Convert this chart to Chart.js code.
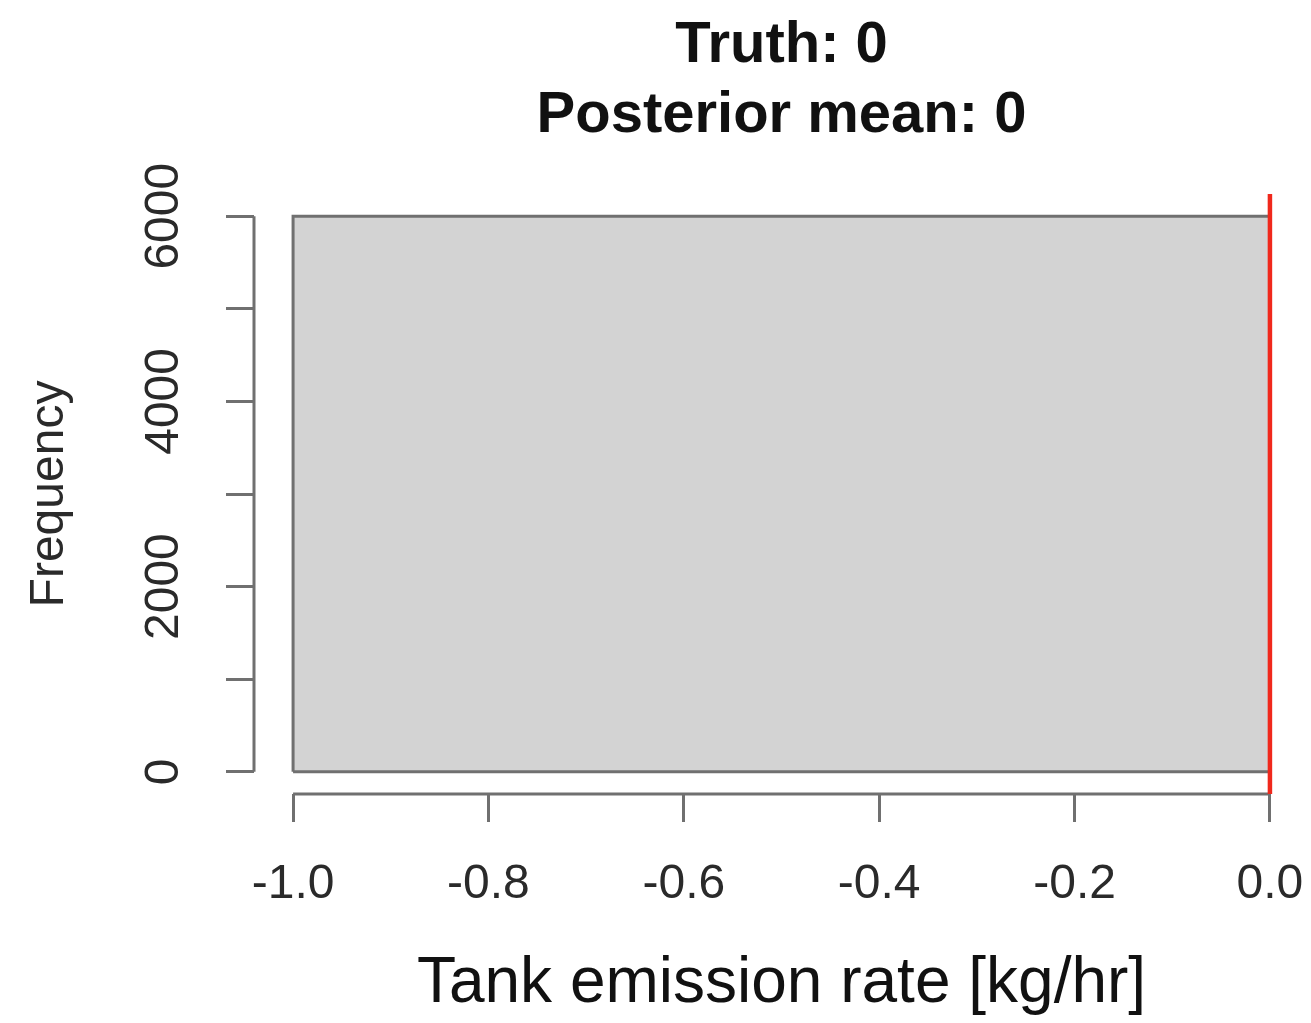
<!DOCTYPE html>
<html>
<head>
<meta charset="utf-8">
<script src="https://cdn.jsdelivr.net/npm/chart.js@4.4.1/dist/chart.umd.min.js"></script>
<style>
  html, body { margin: 0; padding: 0; background: #ffffff; }
  #wrap { width: 1311px; height: 1023px; }
  canvas { display: block; }
</style>
</head>
<body>
<div id="wrap"><canvas id="c" width="1311" height="1023"></canvas></div>
<script>
// ---- data ----
const binEdges = [-1.0, 0.0];          // histogram break points
const binCounts = [6000];              // frequency of each bin
const xTickValues = [-1.0, -0.8, -0.6, -0.4, -0.2, 0.0];
const yTickValues = [0, 1000, 2000, 3000, 4000, 5000, 6000];
const yLabelValues = [0, 2000, 4000, 6000];
const truthValue = 0;
const posteriorMean = 0;
const titleLines = ['Truth: ' + truthValue, 'Posterior mean: ' + posteriorMean];
const xAxisTitle = 'Tank emission rate [kg/hr]';
const yAxisTitle = 'Frequency';

// R-style axis limits (4% extension of data range)
const xData = [Math.min(...binEdges), Math.max(...binEdges)];
const yData = [0, Math.max(...binCounts)];
const xPad = (xData[1] - xData[0]) * 0.04;
const yPad = (yData[1] - yData[0]) * 0.04;
const xLim = [xData[0] - xPad, xData[1] + xPad];
const yLim = [yData[0] - yPad, yData[1] + yPad];

// histogram fill and outline built from the bins
const histFill = [];
const histOutline = [];
for (let i = 0; i < binCounts.length; i++) {
  histFill.push({x: binEdges[i], y: 0});
  histFill.push({x: binEdges[i], y: binCounts[i]});
  histFill.push({x: binEdges[i + 1], y: binCounts[i]});
  histFill.push({x: binEdges[i + 1], y: 0});
  histOutline.push({x: binEdges[i], y: 0});
  histOutline.push({x: binEdges[i], y: binCounts[i]});
  histOutline.push({x: binEdges[i + 1], y: binCounts[i]});
  histOutline.push({x: binEdges[i + 1], y: 0});
  histOutline.push({x: binEdges[i], y: 0});
}

const truthLine = [{x: truthValue, y: yLim[0]}, {x: truthValue, y: yLim[1]}];

const LINE = '#707070';
const FONT = "'Liberation Sans', Arial, Helvetica, sans-serif";

// draws R-style axis lines spanning first..last tick
const rAxes = {
  id: 'rAxes',
  beforeDatasetsDraw(chart) {
    const {ctx, chartArea, scales: {x, y}} = chart;
    ctx.save();
    ctx.strokeStyle = LINE;
    ctx.lineWidth = 3;
    ctx.lineCap = 'butt';
    ctx.beginPath();
    ctx.moveTo(x.getPixelForValue(xTickValues[0]), chartArea.bottom);
    ctx.lineTo(x.getPixelForValue(xTickValues[xTickValues.length - 1]), chartArea.bottom);
    ctx.moveTo(chartArea.left, y.getPixelForValue(yTickValues[0]));
    ctx.lineTo(chartArea.left, y.getPixelForValue(yTickValues[yTickValues.length - 1]));
    ctx.stroke();
    ctx.restore();
  }
};

new Chart(document.getElementById('c'), {
  type: 'scatter',
  data: {
    datasets: [
      {
        label: 'Histogram fill',
        data: histFill,
        showLine: true,
        fill: 'origin',
        backgroundColor: '#d3d3d3',
        borderColor: 'rgba(0,0,0,0)',
        borderWidth: 0,
        pointRadius: 0,
        tension: 0,
        order: 3
      },
      {
        label: 'Histogram',
        data: histOutline,
        showLine: true,
        fill: false,
        borderColor: LINE,
        borderWidth: 3,
        pointRadius: 0,
        tension: 0,
        order: 2
      },
      {
        label: 'Truth',
        data: truthLine,
        showLine: true,
        fill: false,
        borderColor: '#f0281c',
        borderWidth: 4.5,
        pointRadius: 0,
        clip: false,
        order: 1
      }
    ]
  },
  options: {
    responsive: false,
    animation: false,
    devicePixelRatio: 1,
    layout: { padding: { left: 0, right: 2, top: 0, bottom: 0 } },
    plugins: {
      legend: { display: false },
      tooltip: { enabled: false },
      title: {
        display: true,
        fullSize: false,
        text: titleLines,
        color: '#111111',
        font: { family: FONT, size: 58, weight: 'bold', lineHeight: '70px' },
        padding: { top: 11, bottom: 43 }
      }
    },
    scales: {
      x: {
        type: 'linear',
        min: xLim[0],
        max: xLim[1],
        afterBuildTicks(scale) { scale.ticks = xTickValues.map(v => ({value: v})); },
        afterFit(scale) { scale.height = 229; scale.paddingLeft = 0; scale.paddingRight = 0; },
        border: { display: false },
        grid: {
          display: true, drawOnChartArea: false, drawTicks: true,
          tickLength: 28, tickWidth: 3, tickColor: LINE, color: LINE, lineWidth: 3
        },
        ticks: {
          autoSkip: false, maxRotation: 0, minRotation: 0,
          padding: 34,
          color: '#2a2a2a',
          font: { family: FONT, size: 48, lineHeight: 1.2 },
          callback(v) { return Number(v).toFixed(1); }
        },
        title: {
          display: true,
          text: xAxisTitle,
          color: '#111111',
          font: { family: FONT, size: 64, lineHeight: 1.2 },
          padding: { top: 0, bottom: 0 }
        }
      },
      y: {
        type: 'linear',
        min: yLim[0],
        max: yLim[1],
        afterBuildTicks(scale) { scale.ticks = yTickValues.map(v => ({value: v})); },
        afterFit(scale) { scale.width = 254; scale.paddingTop = 0; scale.paddingBottom = 0; },
        border: { display: false },
        grid: {
          display: true, drawOnChartArea: false, drawTicks: true,
          tickLength: 28, tickWidth: 3, tickColor: LINE, color: LINE, lineWidth: 3
        },
        ticks: {
          autoSkip: false, minRotation: 90, maxRotation: 90,
          crossAlign: 'center',
          padding: 8,
          color: '#2a2a2a',
          font: { family: FONT, size: 48, lineHeight: 1.2 },
          callback(v) { return yLabelValues.includes(v) ? String(v) : ''; }
        },
        title: {
          display: true,
          text: yAxisTitle,
          color: '#2a2a2a',
          font: { family: FONT, size: 48, lineHeight: 1.2 },
          padding: { top: 21, bottom: 0 }
        }
      }
    }
  },
  plugins: [rAxes]
});
</script>
</body>
</html>
